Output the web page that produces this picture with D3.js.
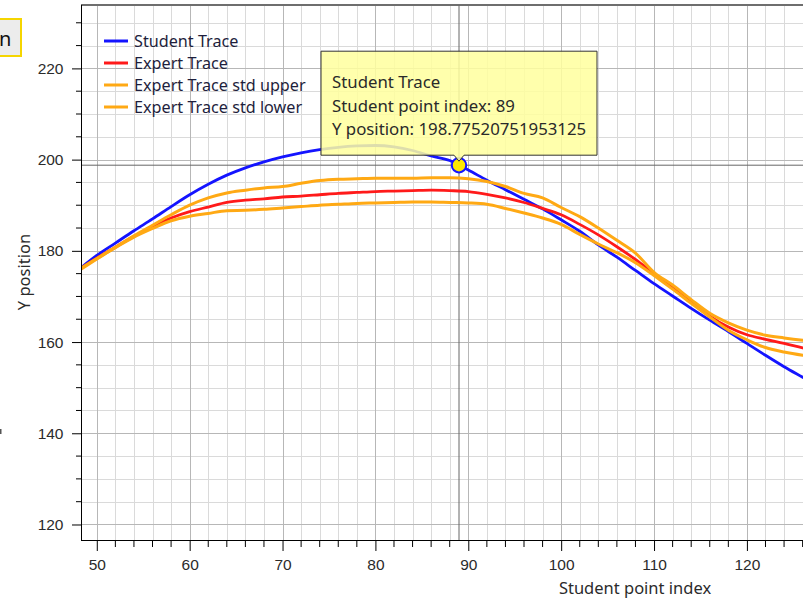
<!DOCTYPE html>
<html>
<head>
<meta charset="utf-8">
<script src="https://cdn.jsdelivr.net/npm/d3@7"></script>
<style>
  body { margin: 0; background: #fff; }
  svg { display: block; font-family: "Noto Sans", "Open Sans", sans-serif; }
  .grid-minor line { stroke: #dadada; stroke-width: 1; }
  .grid-major line { stroke: #b7b7b7; stroke-width: 1; }
  .axis path, .axis line { stroke: #000; }
  .axis text { fill: #2b2b2b; font-size: 15.5px; }
</style>
</head>
<body>
<div class="chart-trace"><svg></svg></div>
<script>
// datos
var indices = [48, 50, 52, 54, 56, 58, 60, 62, 64, 66, 68, 70, 72, 74, 76, 78, 80, 82, 84, 86, 88,
               90, 92, 94, 96, 98, 100, 102, 104, 106, 108, 110, 112, 114, 116, 118, 120, 122, 124, 126, 128];

var studentTrace = [175.8, 179.0, 181.7, 184.4, 187.0, 189.7, 192.3, 194.6, 196.6, 198.2, 199.5, 200.6, 201.5, 202.2, 202.7, 203.0, 203.1, 202.8, 202.0, 200.8, 199.8,
                    197.7, 195.5, 193.4, 191.3, 189.2, 186.8, 184.3, 181.3, 178.6, 175.7, 172.8, 170.1, 167.4, 164.8, 162.3, 159.7, 157.1, 154.6, 152.3, 150.0];

var expertTrace = [175.8, 178.4, 180.8, 183.2, 185.3, 187.2, 188.6, 189.6, 190.6, 191.1, 191.4, 191.8, 192.0, 192.3, 192.6, 192.8, 193.0, 193.1, 193.2, 193.3, 193.2,
                   193.0, 192.4, 191.6, 190.6, 189.3, 187.9, 185.8, 183.5, 180.9, 178.1, 175.0, 172.0, 168.9, 165.7, 163.3, 161.6, 160.6, 159.7, 158.7, 157.8];

var expertUpper = [175.6, 178.2, 180.8, 183.3, 185.6, 187.9, 190.0, 191.6, 192.7, 193.3, 193.8, 194.1, 194.8, 195.4, 195.7, 195.8, 195.9, 195.9, 195.9, 196.0, 196.0,
                   195.8, 195.2, 194.1, 192.6, 191.6, 189.5, 187.5, 185.0, 182.3, 179.5, 175.3, 172.5, 169.3, 166.3, 164.2, 162.6, 161.5, 160.9, 160.4, 160.0];

var expertLower = [175.8, 178.3, 180.7, 183.0, 184.9, 186.6, 187.6, 188.2, 188.8, 188.9, 189.1, 189.4, 189.7, 190.0, 190.2, 190.4, 190.5, 190.6, 190.7, 190.7, 190.6,
                   190.5, 190.2, 189.3, 188.3, 187.2, 185.8, 183.6, 181.5, 179.6, 177.4, 174.6, 171.6, 168.5, 165.5, 162.6, 160.5, 158.8, 157.8, 157.1, 156.6];

var seriesNames = ['Student Trace', 'Expert Trace', 'Expert Trace std upper', 'Expert Trace std lower'];
var seriesColors = ['#1414ff', '#ff1a1a', '#ffa914', '#ffa914'];

var xTicks = [50, 60, 70, 80, 90, 100, 110, 120];
var yTicks = [120, 140, 160, 180, 200, 220];

// punto del tracker
var trackerIndex = 89;
var trackerValue = 198.77520751953125;

function traceChart() {
    const w = 803;
    const h = 602;
    // el area del grafico sigue a la derecha, fuera de la ventana
    const plot = { left: 81, right: 1189, top: 5, bottom: 540 };

    const svg = d3.select('.chart-trace svg')
        .attr('width', w)
        .attr('height', h);

    const x = d3.scaleLinear().domain([48.3, 167.6]).range([plot.left, plot.right]);
    const y = d3.scaleLinear().domain([116.6, 233.9]).range([plot.bottom, plot.top]);

    const xMinor = d3.range(50, 128, 2);
    const yMinor = d3.range(120, 234, 5);

    // rejilla menor
    const gMinor = svg.append('g').attr('class', 'grid-minor');
    gMinor.selectAll('.vx').data(xMinor.filter(d => d % 10 !== 0)).enter().append('line')
        .attr('x1', d => Math.round(x(d)) + 0.5).attr('x2', d => Math.round(x(d)) + 0.5)
        .attr('y1', plot.top).attr('y2', plot.bottom);
    gMinor.selectAll('.hy').data(yMinor.filter(d => d % 20 !== 0)).enter().append('line')
        .attr('y1', d => Math.round(y(d)) + 0.5).attr('y2', d => Math.round(y(d)) + 0.5)
        .attr('x1', plot.left).attr('x2', plot.right);

    // rejilla mayor
    const gMajor = svg.append('g').attr('class', 'grid-major');
    gMajor.selectAll('.vx').data(xTicks).enter().append('line')
        .attr('x1', d => Math.round(x(d)) + 0.5).attr('x2', d => Math.round(x(d)) + 0.5)
        .attr('y1', plot.top).attr('y2', plot.bottom);
    gMajor.selectAll('.hy').data(yTicks).enter().append('line')
        .attr('y1', d => Math.round(y(d)) + 0.5).attr('y2', d => Math.round(y(d)) + 0.5)
        .attr('x1', plot.left).attr('x2', plot.right);

    // borde superior
    svg.append('line')
        .attr('x1', plot.left).attr('x2', plot.right)
        .attr('y1', plot.top).attr('y2', plot.top)
        .attr('stroke', '#6e6e6e').attr('stroke-width', 2);

    // lineas del tracker
    const tx = x(trackerIndex);
    const ty = y(trackerValue);
    svg.append('line')
        .attr('x1', tx).attr('x2', tx).attr('y1', plot.top).attr('y2', plot.bottom)
        .attr('stroke', '#666').attr('stroke-width', 1);
    svg.append('line')
        .attr('x1', plot.left).attr('x2', plot.right).attr('y1', ty).attr('y2', ty)
        .attr('stroke', '#666').attr('stroke-width', 1);

    // series
    const allSeries = [studentTrace, expertTrace, expertUpper, expertLower];
    const line = d3.line()
        .x((d, i) => x(indices[i]))
        .y(d => y(d))
        .curve(d3.curveMonotoneX);

    svg.append('clipPath').attr('id', 'clip-plot')
        .append('rect')
        .attr('x', plot.left).attr('y', plot.top)
        .attr('width', plot.right - plot.left).attr('height', plot.bottom - plot.top);

    svg.append('g').attr('clip-path', 'url(#clip-plot)')
        .selectAll('path')
        .data(allSeries)
        .enter().append('path')
        .attr('d', d => line(d))
        .attr('fill', 'none')
        .attr('stroke', (d, i) => seriesColors[i])
        .attr('stroke-width', (d, i) => i >= 2 ? 3 : 2.8)
        .attr('stroke-linejoin', 'round');

    // ejes
    const axisX = d3.axisBottom(x).tickValues(xTicks).tickSize(11).tickSizeOuter(0).tickPadding(8);
    const gx = svg.append('g').attr('class', 'axis axis-x')
        .attr('transform', 'translate(0,' + plot.bottom + ')')
        .call(axisX);
    gx.select('.domain').attr('d', 'M' + plot.left + ',0.5H' + plot.right);
    gx.selectAll('.minor').data(xMinor.filter(d => d % 10 !== 0)).enter().append('line')
        .attr('x1', d => x(d)).attr('x2', d => x(d))
        .attr('y1', 0).attr('y2', 7).attr('stroke', '#000');

    const axisY = d3.axisLeft(y).tickValues(yTicks).tickSize(9).tickSizeOuter(0).tickPadding(8.5);
    const gy = svg.append('g').attr('class', 'axis axis-y')
        .attr('transform', 'translate(' + plot.left + ',0)')
        .call(axisY);
    gy.select('.domain').attr('d', 'M0.5,' + plot.top + 'V' + plot.bottom);
    gy.selectAll('.minor').data(yMinor.filter(d => d % 20 !== 0)).enter().append('line')
        .attr('y1', d => y(d)).attr('y2', d => y(d))
        .attr('x1', 0).attr('x2', -5).attr('stroke', '#000');

    // titulos de los ejes
    svg.append('text')
        .attr('x', (plot.left + plot.right) / 2).attr('y', 594)
        .attr('text-anchor', 'middle')
        .attr('font-size', 16.5).attr('fill', '#2b2b2b')
        .text('Student point index');
    svg.append('text')
        .attr('transform', 'translate(30,' + 272 + ') rotate(-90)')
        .attr('text-anchor', 'middle')
        .attr('font-size', 16.5).attr('fill', '#2b2b2b')
        .text('Y position');

    // leyenda
    const legend = svg.append('g').attr('class', 'legend')
        .attr('transform', 'translate(104,41)');
    const items = legend.selectAll('g').data(seriesNames).enter().append('g')
        .attr('transform', (d, i) => 'translate(0,' + (i * 22) + ')');
    items.append('line')
        .attr('x1', 0).attr('x2', 24).attr('y1', 0).attr('y2', 0)
        .attr('stroke', (d, i) => seriesColors[i]).attr('stroke-width', 3);
    items.append('text')
        .attr('x', 30).attr('y', 5.5)
        .attr('font-size', 16.2).attr('fill', '#1e1e3c')
        .text(d => d);

    // tracker: punto y caja
    svg.append('circle')
        .attr('cx', tx).attr('cy', ty).attr('r', 7.2)
        .attr('fill', '#ffea00').attr('stroke', '#1414ff').attr('stroke-width', 2);

    const boxW = 276, boxH = 104;
    const bx = tx - boxW / 2, by = ty - 10 - boxH;
    const tip = svg.append('g').attr('class', 'tracker');
    tip.append('path')
        .attr('d', 'M' + bx + ',' + by + 'h' + boxW + 'v' + boxH + 'H' + (tx + 5) + 'L' + tx + ',' + (ty - 4) +
             'L' + (tx - 5) + ',' + (by + boxH) + 'H' + bx + 'Z')
        .attr('fill', '#ffff9e').attr('fill-opacity', 0.86)
        .attr('stroke', '#333').attr('stroke-width', 1);
    const lines = ['Student Trace', 'Student point index: ' + trackerIndex, 'Y position: ' + trackerValue];
    tip.selectAll('text').data(lines).enter().append('text')
        .attr('x', bx + 11).attr('y', (d, i) => by + 37 + i * 23.5)
        .attr('font-size', 16.8).attr('fill', '#2a2a2a')
        .text(d => d);

    // boton recortado arriba a la izquierda
    svg.append('rect')
        .attr('x', -10).attr('y', 19).attr('width', 31).attr('height', 37)
        .attr('fill', '#ececec').attr('stroke', '#f5d500').attr('stroke-width', 2);
    svg.append('text')
        .attr('x', -1).attr('y', 46)
        .attr('font-size', 20).attr('fill', '#111')
        .text('n');

    // marca suelta en el borde izquierdo
    svg.append('rect')
        .attr('x', 0).attr('y', 429).attr('width', 1.5).attr('height', 5)
        .attr('fill', '#555');
}

traceChart();
</script>
</body>
</html>
